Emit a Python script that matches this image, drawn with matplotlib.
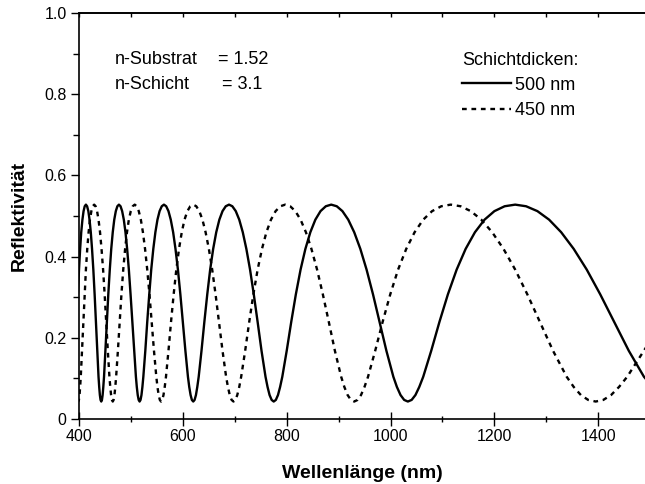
import matplotlib
matplotlib.use('Agg')
import matplotlib.pyplot as plt
from matplotlib.ticker import MultipleLocator

plt.rcParams['font.family'] = ['Liberation Sans', 'DejaVu Sans']

# Wellenlänge (nm) und Reflektivität (eine Zeile je Periode)
wl_500 = [397.9, 400.0, 402.2, 404.3, 406.6, 408.8, 411.0, 413.3, 415.6, 418.0, 420.3, 422.7, 425.1,
          427.6, 430.1, 432.6, 435.1, 437.6, 438.9, 440.2, 441.5, 442.9, 444.2, 445.5, 446.8,
          448.2, 450.9, 453.7, 456.4, 459.3, 462.1, 465.0, 467.9, 470.9, 473.9, 476.9, 480.0, 483.1, 486.3,
          489.5, 492.7, 496.0, 499.3, 502.7, 506.1, 509.6, 511.3, 513.1, 514.9, 516.7, 518.5, 520.3, 522.1,
          523.9, 527.7, 531.4, 535.3, 539.1, 543.1, 547.1, 551.1, 555.2, 559.4, 563.6, 567.9, 572.3, 576.7,
          581.3, 585.8, 590.5, 595.2, 600.0, 604.9, 609.8, 612.3, 614.9, 617.4, 620.0, 622.6, 625.2, 627.8,
          630.5, 635.9, 641.4, 647.0, 652.6, 658.4, 664.3, 670.3, 676.4, 682.6, 688.9, 695.3, 701.9, 708.6,
          715.4, 722.3, 729.4, 736.6, 744.0, 751.5, 759.2, 763.1, 767.0, 771.0, 775.0, 779.1, 783.2, 787.3,
          791.5, 800.0, 808.7, 817.6, 826.7, 836.0, 845.5, 855.2, 865.1, 875.3, 885.7, 896.4, 907.3, 918.5,
          930.0, 941.8, 953.8, 966.2, 978.9, 992.0, 1005.4, 1012.2, 1019.2, 1026.2, 1033.3, 1040.6, 1047.9, 1055.3,
          1062.9, 1078.3, 1094.1, 1110.4, 1127.3, 1144.6, 1162.5, 1181.0, 1200.0, 1219.7, 1240.0,
          1261.0, 1282.8, 1305.3, 1328.6, 1352.7, 1377.8, 1403.8, 1430.8, 1458.8, 1488.0, 1518.4]
r_500 = [0.307, 0.368, 0.419, 0.460, 0.491, 0.512, 0.524, 0.528, 0.524, 0.512, 0.491, 0.460, 0.419,
         0.368, 0.307, 0.239, 0.168, 0.104, 0.079, 0.059, 0.047, 0.043, 0.047, 0.059, 0.079,
         0.104, 0.168, 0.239, 0.307, 0.368, 0.419, 0.460, 0.491, 0.512, 0.524, 0.528, 0.524, 0.512, 0.491,
         0.460, 0.419, 0.368, 0.307, 0.239, 0.168, 0.104, 0.079, 0.059, 0.047, 0.043, 0.047, 0.059, 0.079,
         0.104, 0.168, 0.239, 0.307, 0.368, 0.419, 0.460, 0.491, 0.512, 0.524, 0.528, 0.524, 0.512, 0.491,
         0.460, 0.419, 0.368, 0.307, 0.239, 0.168, 0.104, 0.079, 0.059, 0.047, 0.043, 0.047, 0.059, 0.079,
         0.104, 0.168, 0.239, 0.307, 0.368, 0.419, 0.460, 0.491, 0.512, 0.524, 0.528, 0.524, 0.512, 0.491,
         0.460, 0.419, 0.368, 0.307, 0.239, 0.168, 0.104, 0.079, 0.059, 0.047, 0.043, 0.047, 0.059, 0.079,
         0.104, 0.168, 0.239, 0.307, 0.368, 0.419, 0.460, 0.491, 0.512, 0.524, 0.528, 0.524, 0.512, 0.491,
         0.460, 0.419, 0.368, 0.307, 0.239, 0.168, 0.104, 0.079, 0.059, 0.047, 0.043, 0.047, 0.059, 0.079,
         0.104, 0.168, 0.239, 0.307, 0.368, 0.419, 0.460, 0.491, 0.512, 0.524, 0.528,
         0.524, 0.512, 0.491, 0.460, 0.419, 0.368, 0.307, 0.239, 0.168, 0.104, 0.059]

wl_450 = [397.4, 398.6, 399.8, 401.0, 402.2,
          403.4, 405.8, 408.3, 410.8, 413.3, 415.9, 418.5, 421.1, 423.8, 426.5, 429.2, 432.0, 434.8, 437.6,
          440.5, 443.4, 446.4, 449.4, 452.4, 455.5, 458.6, 460.2, 461.8, 463.4, 465.0, 466.6, 468.3, 469.9,
          471.5, 474.9, 478.3, 481.7, 485.2, 488.8, 492.4, 496.0, 499.7, 503.5, 507.3, 511.1, 515.1, 519.1,
          523.1, 527.2, 531.4, 535.7, 540.0, 544.4, 548.9, 551.1, 553.4, 555.7, 558.0, 560.3, 562.7, 565.1,
          567.5, 572.3, 577.2, 582.3, 587.4, 592.6, 597.9, 603.2, 608.7, 614.3, 620.0, 625.8, 631.7, 637.7,
          643.8, 650.1, 656.5, 663.0, 669.6, 676.4, 683.3, 686.8, 690.3, 693.9, 697.5, 701.2, 704.8, 708.6,
          712.3, 720.0, 727.8, 735.8, 744.0, 752.4, 760.9, 769.7, 778.6, 787.8, 797.1, 806.7, 816.6, 826.7,
          837.0, 847.6, 858.5, 869.6, 881.1, 892.8, 904.9, 911.0, 917.3, 923.6, 930.0, 936.5, 943.1, 949.8,
          956.6, 970.4, 984.7, 999.4, 1014.5, 1030.2, 1046.3, 1062.9, 1080.0, 1097.7, 1116.0, 1134.9, 1154.5, 1174.7,
          1195.7, 1217.5, 1240.0, 1263.4, 1287.7, 1312.9, 1339.2, 1352.7, 1366.5, 1380.6, 1395.0, 1409.7, 1424.7, 1440.0,
          1455.7, 1488.0, 1521.8]
r_450 = [0.047, 0.043, 0.047, 0.059, 0.079,
         0.104, 0.168, 0.239, 0.307, 0.368, 0.419, 0.460, 0.491, 0.512, 0.524, 0.528, 0.524, 0.512, 0.491,
         0.460, 0.419, 0.368, 0.307, 0.239, 0.168, 0.104, 0.079, 0.059, 0.047, 0.043, 0.047, 0.059, 0.079,
         0.104, 0.168, 0.239, 0.307, 0.368, 0.419, 0.460, 0.491, 0.512, 0.524, 0.528, 0.524, 0.512, 0.491,
         0.460, 0.419, 0.368, 0.307, 0.239, 0.168, 0.104, 0.079, 0.059, 0.047, 0.043, 0.047, 0.059, 0.079,
         0.104, 0.168, 0.239, 0.307, 0.368, 0.419, 0.460, 0.491, 0.512, 0.524, 0.528, 0.524, 0.512, 0.491,
         0.460, 0.419, 0.368, 0.307, 0.239, 0.168, 0.104, 0.079, 0.059, 0.047, 0.043, 0.047, 0.059, 0.079,
         0.104, 0.168, 0.239, 0.307, 0.368, 0.419, 0.460, 0.491, 0.512, 0.524, 0.528, 0.524, 0.512, 0.491,
         0.460, 0.419, 0.368, 0.307, 0.239, 0.168, 0.104, 0.079, 0.059, 0.047, 0.043, 0.047, 0.059, 0.079,
         0.104, 0.168, 0.239, 0.307, 0.368, 0.419, 0.460, 0.491, 0.512, 0.524, 0.528, 0.524, 0.512, 0.491,
         0.460, 0.419, 0.368, 0.307, 0.239, 0.168, 0.104, 0.079, 0.059, 0.047, 0.043, 0.047, 0.059, 0.079,
         0.104, 0.168, 0.239]

fig = plt.figure(figsize=(6.45, 4.84), dpi=100)
ax = fig.add_axes([79 / 645, 1 - 419 / 484, 566 / 645, 406 / 484])

ax.plot(wl_500, r_500, color='black', lw=1.7, label='500 nm')
ax.plot(wl_450, r_450, color='black', lw=1.7, ls=(0, (2, 2)), label='450 nm')

ax.set_xlim(400, 1490)
ax.set_ylim(0, 1.0)
ax.xaxis.set_major_locator(MultipleLocator(200))
ax.xaxis.set_minor_locator(MultipleLocator(100))
ax.yaxis.set_major_locator(MultipleLocator(0.2))
ax.yaxis.set_minor_locator(MultipleLocator(0.1))
ax.yaxis.set_major_formatter(plt.FuncFormatter(lambda v, p: '0' if v == 0 else f'{v:.1f}'))
ax.tick_params(axis='y', which='major', direction='out', length=6, width=1, labelsize=11.5, pad=3)
ax.tick_params(axis='y', which='minor', direction='out', length=4, width=1)
ax.tick_params(axis='x', which='major', direction='inout', length=10, width=1, labelsize=11.5, pad=2)
ax.tick_params(axis='x', which='minor', direction='inout', length=5, width=1)
ax.spines['right'].set_visible(False)
for s in ax.spines.values():
    s.set_linewidth(1.2)

top = ax.secondary_xaxis('top')
top.xaxis.set_major_locator(MultipleLocator(100))
top.tick_params(direction='in', length=3, width=1, labeltop=False)
top.spines['top'].set_linewidth(1.2)

ax.set_xlabel('Wellenlänge (nm)', fontsize=14, fontweight='bold', labelpad=15)
ax.set_ylabel('Reflektivität', fontsize=14, fontweight='bold', labelpad=12)

ax.text(0.0636, 0.886, 'n-Substrat', transform=ax.transAxes, fontsize=13, va='center')
ax.text(0.0636, 0.823, 'n-Schicht', transform=ax.transAxes, fontsize=13, va='center')
ax.text(0.2456, 0.886, '= 1.52', transform=ax.transAxes, fontsize=13, va='center')
ax.text(0.2527, 0.823, '= 3.1', transform=ax.transAxes, fontsize=13, va='center')

ax.legend(loc='upper left', bbox_to_anchor=(0.677, 0.905), frameon=False,
          title='Schichtdicken:', fontsize=13, title_fontsize=13,
          handlelength=2.7, handletextpad=0.25, borderpad=0, borderaxespad=0,
          labelspacing=0.45, alignment='left')

fig.savefig('out.png', dpi=100)
